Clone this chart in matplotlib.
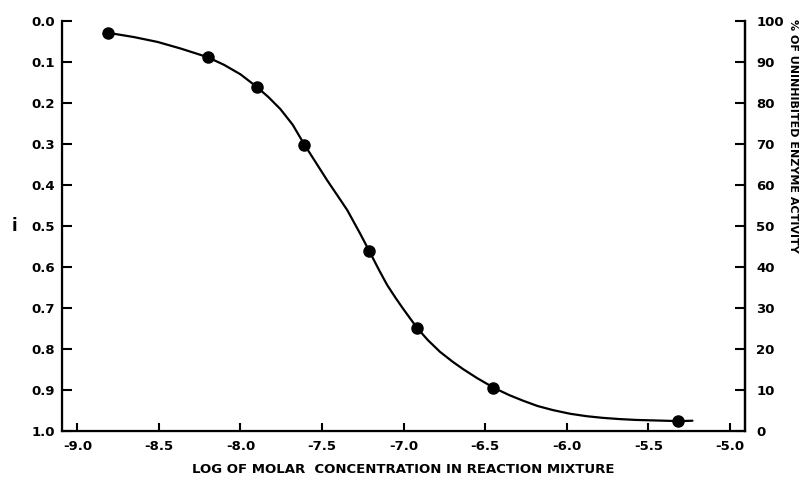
import matplotlib
matplotlib.use("Agg")
import matplotlib.pyplot as plt

# measured points (log molar conc, fraction inhibited i)
log_conc = [-8.81, -8.20, -7.90, -7.61, -7.21, -6.92, -6.45, -5.32]
inhib = [0.030, 0.089, 0.162, 0.304, 0.562, 0.750, 0.896, 0.977]

# hand drawn curve
curve_x = [-8.807, -8.654, -8.508, -8.367, -8.202, -8.100, -8.000, -7.902,
           -7.830, -7.755, -7.680, -7.609, -7.540, -7.468, -7.400, -7.346,
           -7.266, -7.211, -7.150, -7.101, -7.050, -7.003, -6.917, -6.850,
           -6.777, -6.700, -6.636, -6.550, -6.446, -6.350, -6.269, -6.180,
           -6.086, -5.980, -5.878, -5.780, -5.676, -5.580, -5.492, -5.400,
           -5.315, -5.230]
curve_y = [0.030, 0.040, 0.052, 0.068, 0.089, 0.108, 0.131, 0.161,
           0.186, 0.216, 0.254, 0.302, 0.345, 0.390, 0.430, 0.462,
           0.520, 0.562, 0.609, 0.645, 0.676, 0.703, 0.750, 0.780,
           0.808, 0.832, 0.850, 0.872, 0.896, 0.914, 0.927, 0.940,
           0.950, 0.959, 0.965, 0.969, 0.972, 0.974, 0.975, 0.976,
           0.977, 0.976]

xticks = [-9.0, -8.5, -8.0, -7.5, -7.0, -6.5, -6.0, -5.5, -5.0]
xtick_labels = ["-9.0", "-8.5", "-8.0", "-7.5", "-7.0", "-6.5", "-6.0", "-5.5", "-5.0"]
left_ticks = [0.0, 0.1, 0.2, 0.3, 0.4, 0.5, 0.6, 0.7, 0.8, 0.9, 1.0]
right_ticks = [0, 10, 20, 30, 40, 50, 60, 70, 80, 90, 100]

plt.rcParams["axes.unicode_minus"] = False
plt.rcParams["font.family"] = "DejaVu Sans"

fig = plt.figure(figsize=(8.04, 4.8), dpi=100)
ax = fig.add_axes([0.0771, 0.103, 0.8495, 0.854])

ax.plot(curve_x, curve_y, color="black", lw=1.6, solid_capstyle="round",
        solid_joinstyle="round")
ax.plot(log_conc, inhib, "o", color="black", ms=8)

ax.set_xlim(-9.094, -4.908)
ax.set_ylim(1.0, 0.0)
ax.set_xticks(xticks)
ax.set_xticklabels(xtick_labels)
ax.set_yticks(left_ticks)
ax.set_yticklabels(["%.1f" % t for t in left_ticks])
ax.tick_params(direction="in", length=7, width=1.5, labelsize=9.5, pad=5)
ax.tick_params(axis="x", length=6, pad=7)
for lab in ax.get_xticklabels() + ax.get_yticklabels():
    lab.set_fontweight("bold")

ax.spines["top"].set_visible(False)
for s in ["left", "bottom", "right"]:
    ax.spines[s].set_linewidth(1.6)

ax.set_ylabel("i", rotation=0, fontsize=12, fontweight="bold", labelpad=12, va="center")
ax.set_xlabel("LOG OF MOLAR  CONCENTRATION IN REACTION MIXTURE",
              fontsize=9.5, fontweight="bold", labelpad=7)

ax2 = ax.twinx()
ax2.set_ylim(0, 100)
ax2.set_yticks(right_ticks)
ax2.set_yticklabels([str(t) for t in right_ticks])
ax2.tick_params(direction="in", length=7, width=1.5, labelsize=9.5, pad=8)
for lab in ax2.get_yticklabels():
    lab.set_fontweight("bold")
ax2.spines["top"].set_visible(False)
ax2.spines["right"].set_linewidth(1.6)
ax2.text(1.07, 0.72, "% OF UNINHIBITED ENZYME ACTIVITY", transform=ax2.transAxes,
         rotation=-90, ha="center", va="center", fontsize=8, fontweight="bold")

fig.savefig("out.png", dpi=100)
